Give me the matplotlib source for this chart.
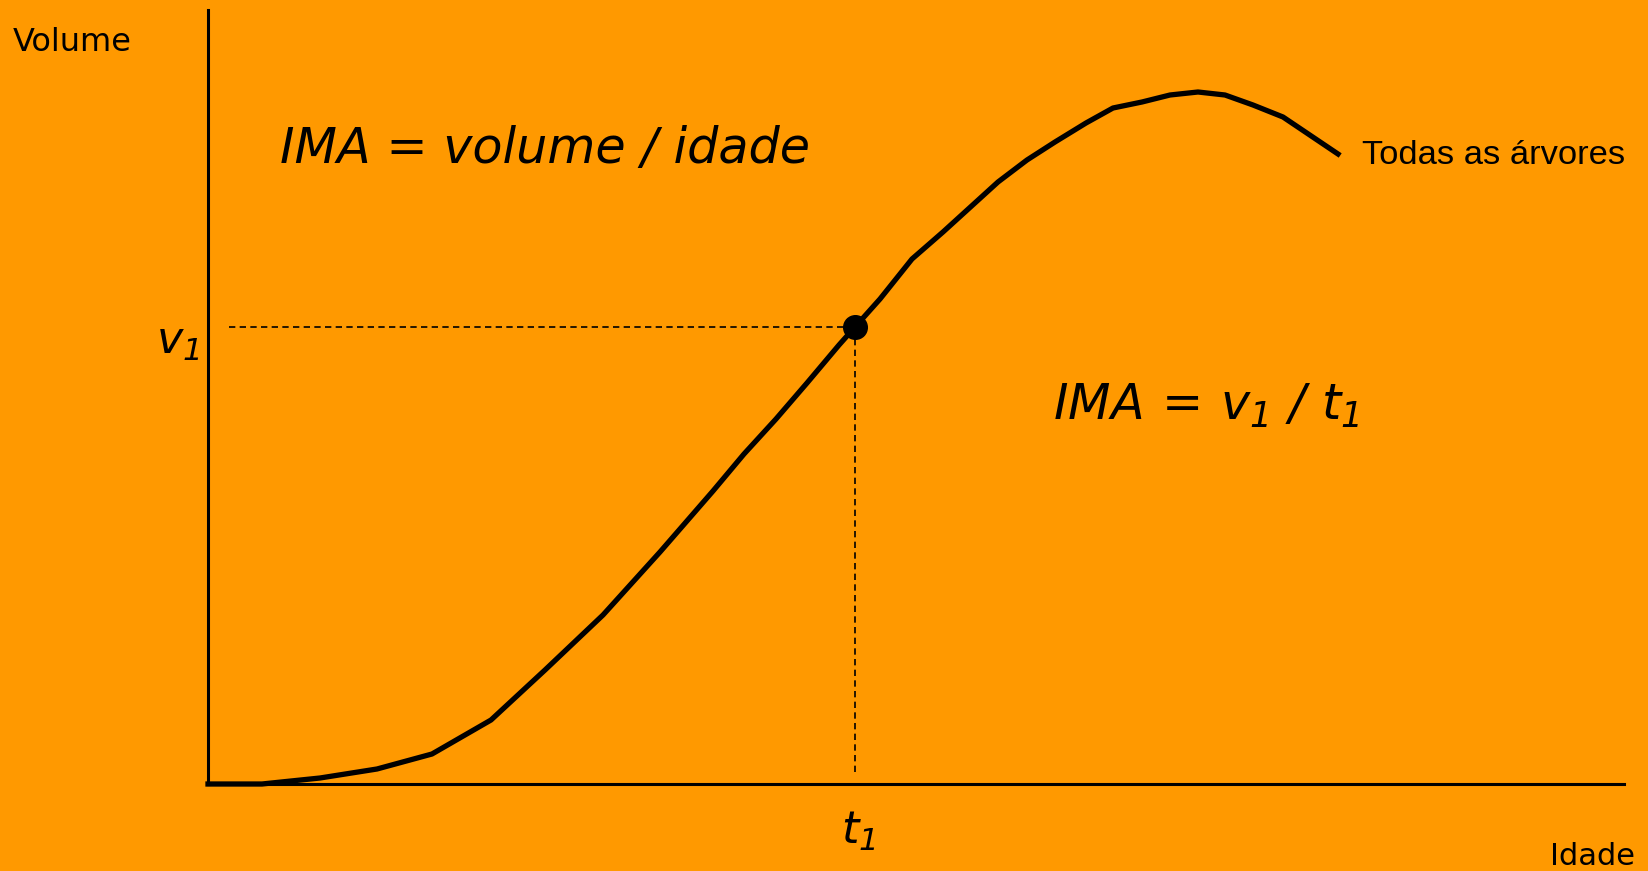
import matplotlib
matplotlib.use('Agg')
import matplotlib.pyplot as plt

# curve (age, volume, arbitrary units)
idade = [0, 5.4, 11.2, 16.9, 22.4, 28.3, 33.7, 39.5, 45.2, 50.5, 53.6, 56.8,
         59.9, 63.1, 64.7, 67.2, 70.4, 73.5, 79.0, 81.9, 84.7, 87.8, 90.5,
         93.4, 96.2, 99.0, 101.7, 104.5, 107.5, 113.0]
volume = [0, 0, 0.6, 1.5, 3.0, 6.4, 11.4, 16.9, 23.2, 29.3, 33.0, 36.5,
          40.1, 43.9, 45.7, 48.5, 52.5, 55.2, 60.2, 62.4, 64.2, 66.1, 67.6,
          68.2, 68.9, 69.2, 68.9, 67.9, 66.7, 63.0]
t1 = 64.7
v1 = 45.7

bg = '#FF9900'
W, H = 1648, 871
fig = plt.figure(figsize=(W / 100, H / 100), dpi=100, facecolor=bg)
ax = fig.add_axes([208 / W, 87 / H, (1624 - 208) / W, (784 - 10.5) / H])
ax.set_facecolor(bg)
ax.set_xlim(0, 141.6)
ax.set_ylim(0, 77.35)
for s in ['top', 'right']:
	ax.spines[s].set_visible(False)
for s in ['left', 'bottom']:
	ax.spines[s].set_linewidth(2.2)
	ax.spines[s].set_color('black')
ax.set_xticks([])
ax.set_yticks([])

plt.rcParams['mathtext.fontset'] = 'custom'
plt.rcParams['mathtext.it'] = 'DejaVu Sans:italic'
plt.rcParams['mathtext.rm'] = 'DejaVu Sans:italic'

ax.plot(idade, volume, color='black', lw=3.8, solid_joinstyle='round', clip_on=False)

# dashed guides to the point
ax.plot([2.1, t1], [v1, v1], color='black', lw=1.2, dashes=(3.8, 2.6))
ax.plot([t1, t1], [1.2, v1], color='black', lw=1.2, dashes=(3.8, 2.6))
ax.plot([t1], [v1], 'o', color='black', markersize=17, zorder=5)

ax.text(-19.5, 73.3, 'Volume', fontsize=23, va='baseline', ha='left', clip_on=False)
ax.text(134.2, -8.1, 'Idade', fontsize=22, va='baseline', ha='left', clip_on=False)
ax.text(115.4, 62.0, 'Todas as árvores', fontsize=24.8, family='Liberation Sans',
	va='baseline', ha='left')
ax.text(7.2, 62.1, 'IMA = volume / idade', fontsize=35.5, style='italic',
	va='baseline', ha='left')
ax.text(84.5, 36.4, r'$IMA\ \!=\ \!v_1\ /\ t_1$', fontsize=35.5,
	va='baseline', ha='left')
ax.text(-0.9, 43.0, r'$v_1$', fontsize=32, va='baseline', ha='right', clip_on=False)
ax.text(t1 + 0.3, -6.0, r'$t_1$', fontsize=32, va='baseline', ha='center', clip_on=False)

plt.savefig('out.png', dpi=100, facecolor=bg)
